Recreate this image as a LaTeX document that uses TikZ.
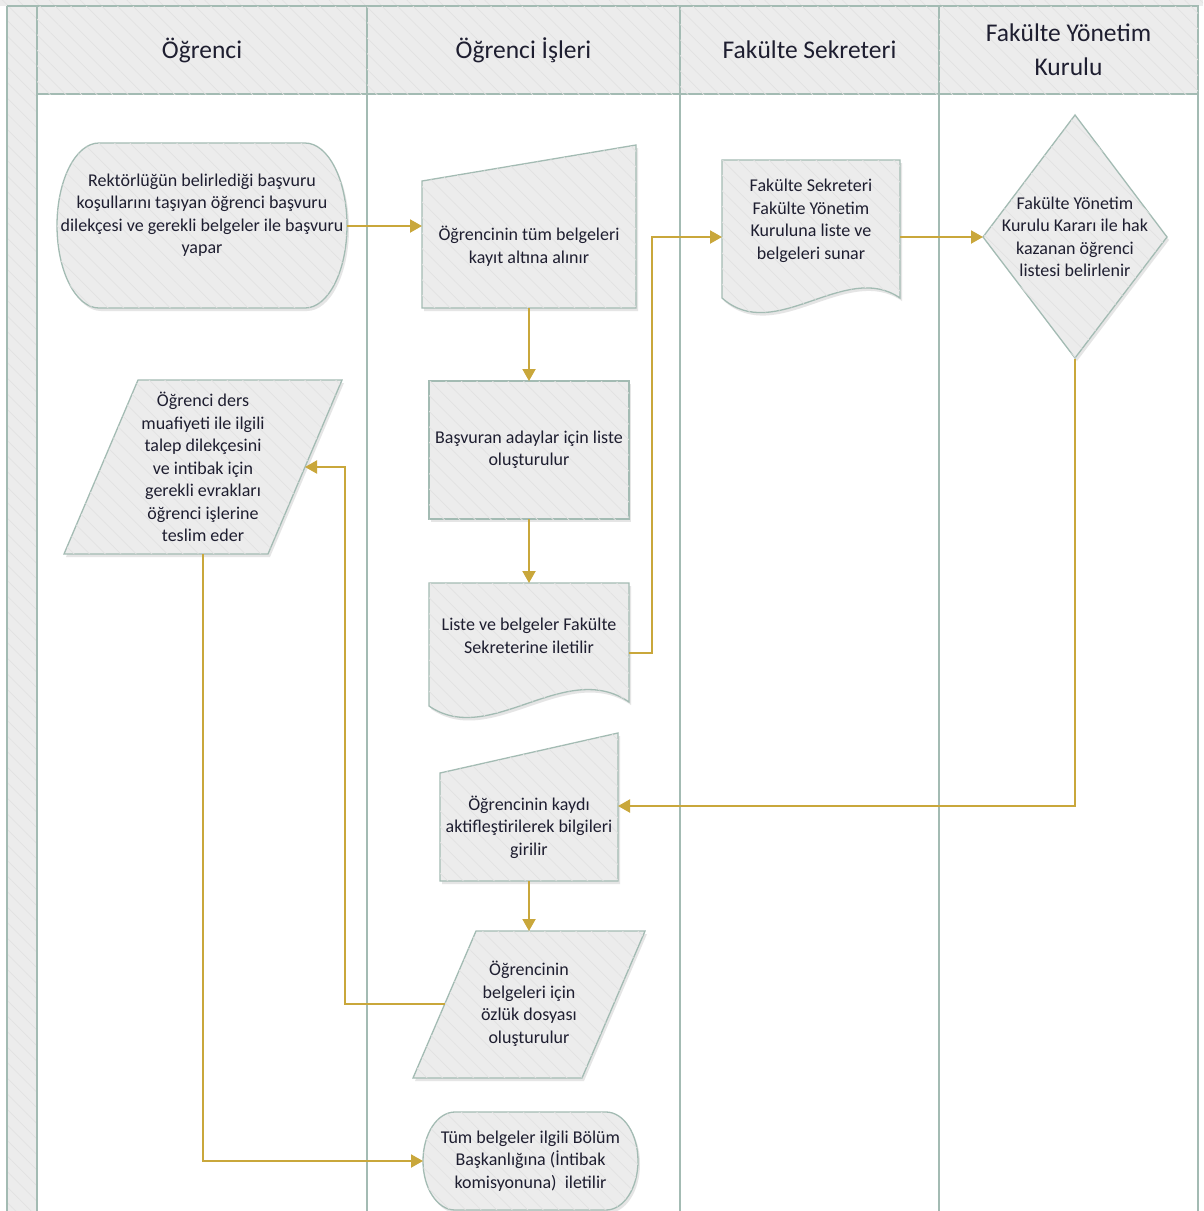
\documentclass[tikz,border=0pt]{standalone}
\usepackage{fontspec}
\setmainfont{Carlito}
\usetikzlibrary{calc,arrows.meta,shadows,patterns.meta}
\definecolor{fillc}{HTML}{ECECEC}
\definecolor{hatchc}{HTML}{E2E2E2}
\definecolor{linec}{HTML}{A3BBB3}
\definecolor{arrowc}{HTML}{C9A73B}
\definecolor{textc}{HTML}{1E1E30}
\begin{document}
\begin{tikzpicture}[x=1pt,y=-1pt,
  hatch/.style={postaction={pattern={Lines[angle=-45,distance=11pt,line width=0.7pt]},pattern color=hatchc}},
  lane/.style={draw=linec,line width=1.8pt},
  shp/.style={draw=linec,line width=1.3pt,fill=fillc,
    drop shadow={shadow xshift=2pt,shadow yshift=-3pt,opacity=0.22,fill=black!45},hatch},
  txt/.style={font=\fontsize{18}{22.5}\selectfont,text=textc,align=center,inner sep=0pt,outer sep=0pt},
  hdr/.style={draw=linec,line width=1.8pt,fill=fillc,hatch,minimum height=88pt,inner sep=0pt,outer sep=0pt,
    font=\fontsize{25.5}{34}\selectfont,text=textc,align=center},
  flow/.style={draw=arrowc,line width=2pt,-{Triangle[length=12pt,width=13pt]}}]
\useasboundingbox (0,0) rectangle (1203,1211);
\fill[white] (0,0) rectangle (1203,1211);
\coordinate (bot) at (0,1211);
% frame
\path[fill=fillc,hatch] (0,0) rectangle (1203,6);
\path[fill=fillc,hatch] (7,6) rectangle (37,1211);
\draw[lane] (7,6) -- (7,1211);
\draw[lane] (7,6) -- (37,6);
\draw[lane] (37,6) -- (37,1211);
% headers
\node[hdr,minimum width=330pt] (h1) at (202,50) {Öğrenci};
\node[hdr,minimum width=313pt] (h2) at (523.5,50) {Öğrenci İşleri};
\node[hdr,minimum width=259pt] (h3) at (809.5,50) {Fakülte Sekreteri};
\node[hdr,minimum width=259pt] (h4) at (1068.5,50) {Fakülte Yönetim\\Kurulu};
\draw[lane] (h1.south east) -- (h1.south east |- bot);
\draw[lane] (h2.south east) -- (h2.south east |- bot);
\draw[lane] (h3.south east) -- (h3.south east |- bot);
\draw[lane] (h4.south east) -- (h4.south east |- bot);
% shape outlines
\path[shp] (99,143) -- (305,143) .. controls (328.2,143) and (347,179.9) .. (347,225.5)
  .. controls (347,271.1) and (328.2,308) .. (305,308) -- (99,308)
  .. controls (75.8,308) and (57,271.1) .. (57,225.5) .. controls (57,179.9) and (75.8,143) .. (99,143) -- cycle;
\path[shp] (422,308) -- (422,181) -- (636,145) -- (636,308) -- cycle;
\path[shp] (429,706) -- (429,583) -- (629,583) -- (629,702) .. controls (565,658) and (490,748) .. (429,706) -- cycle;
\path[shp] (722,298) -- (722,160) -- (900,160) -- (900,298) .. controls (845,260) and (775,345) .. (722,298) -- cycle;
\path[shp] (1075,115) -- (1167,237) -- (1075,358) -- (983,237) -- cycle;
\path[shp] (138,380) -- (342,380) -- (268,554) -- (64,554) -- cycle;
\path[shp] (440,881) -- (440,773) -- (618,733) -- (618,881) -- cycle;
\path[shp] (476,931) -- (645,931) -- (582,1078) -- (413,1078) -- cycle;
\path[shp] (455,1112) -- (606,1112) .. controls (623.7,1112) and (638,1133.9) .. (638,1161)
  .. controls (638,1188.1) and (623.7,1210) .. (606,1210) -- (455,1210)
  .. controls (437.3,1210) and (423,1188.1) .. (423,1161) .. controls (423,1133.9) and (437.3,1112) .. (455,1112) -- cycle;
% nodes
\node[txt,minimum width=290pt] (t1) at (202,215) {Rektörlüğün belirlediği başvuru\\koşullarını taşıyan öğrenci başvuru\\dilekçesi ve gerekli belgeler ile başvuru\\yapar};
\node[txt,minimum width=214pt,minimum height=124pt] (m1) at (529,246) {Öğrencinin tüm belgeleri\\kayıt altına alınır};
\node[txt,shp,minimum width=200pt,minimum height=138pt] (r1) at (529,450) {Başvuran adaylar için liste\\oluşturulur};
\node[txt,minimum width=200pt,minimum height=106pt] (d1) at (529,636) {Liste ve belgeler Fakülte\\Sekreterine iletilir};
\node[txt,minimum width=178pt] (d2) at (811,221) {Fakülte Sekreteri\\Fakülte Yönetim\\Kuruluna liste ve\\belgeleri sunar};
\node[txt,minimum width=184pt,minimum height=243pt] (dm) at (1075,237) {Fakülte Yönetim\\Kurulu Kararı ile hak\\kazanan öğrenci\\listesi belirlenir};
\node[txt,minimum width=178pt,minimum height=108pt] (m2) at (529,827) {Öğrencinin kaydı\\aktifleştirilerek bilgileri\\girilir};
\node[txt,minimum width=169pt,minimum height=146pt] (p2) at (529,1004) {Öğrencinin\\belgeleri için\\özlük dosyası\\oluşturulur};
\node[txt,minimum width=204pt,minimum height=174pt] (p1) at (203,467) {Öğrenci ders\\muafiyeti ile ilgili\\talep dilekçesini\\ve intibak için\\gerekli evrakları\\öğrenci işlerine\\teslim eder};
\node[txt,minimum width=215pt,minimum height=98pt] (t2) at (530.5,1161) {Tüm belgeler ilgili Bölüm\\Başkanlığına (İntibak\\komisyonuna)\ \ iletilir};
% connectors
\draw[flow] ($(t1.east)+(0,11)$) -- ($(t1.east -| m1.west)+(0,11)$);
\draw[flow] (m1.south) -- (m1.south |- r1.north);
\draw[flow] (r1.south) -- (r1.south |- d1.north);
\draw[flow] ($(d1.east)+(0,17)$) -- ++(23,0) |- (d2.west |- dm.west);
\draw[flow] (dm.west -| d2.east) -- (dm.west);
\draw[flow] (dm.south) |- ($(m2.east)+(0,-21)$);
\draw[flow] (m2.south) -- (m2.south |- p2.north);
\draw[flow] (p2.west) -| ($(p1.east)+(40,0)$) -- (p1.east);
\draw[flow] (p1.south) |- (t2.west);
\end{tikzpicture}
\end{document}
